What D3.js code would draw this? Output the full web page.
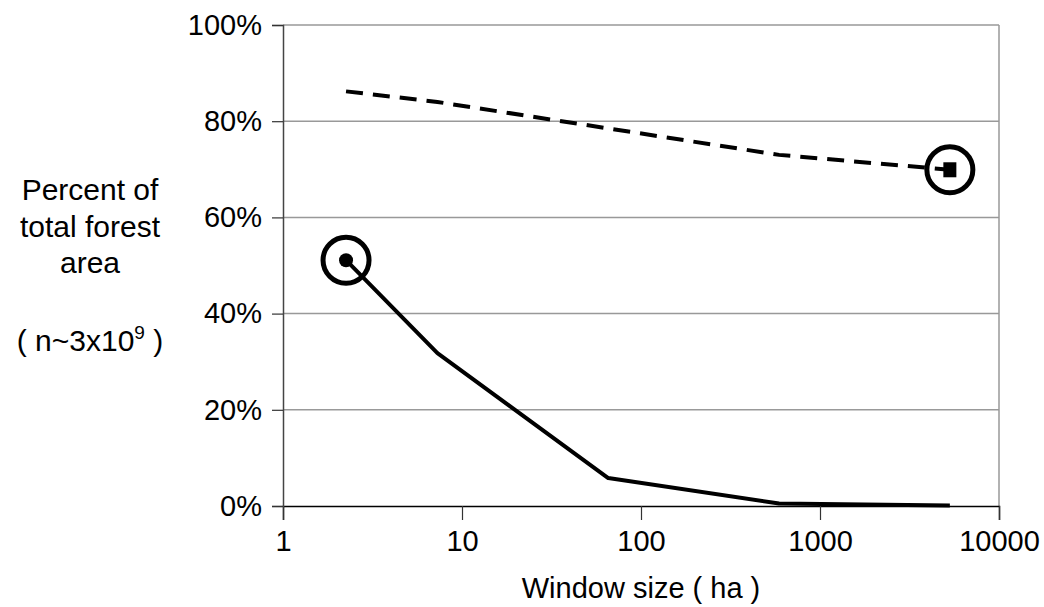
<!DOCTYPE html>
<html>
<head>
<meta charset="utf-8">
<script src="https://cdn.jsdelivr.net/npm/d3@7"></script>
<style>
  body { margin: 0; background: #fff; }
  text { font-family: "Liberation Sans", Arial, sans-serif; }
</style>
</head>
<body>
<script>
// window sizes (ha) and percent of forest area
var windowSizes = [2.25, 7.29, 65.61, 590.49, 5314.41];
var solidPct = [51.1, 31.8, 5.8, 0.5, 0.1];
var dashedPct = [86.2, 84.0, 78.5, 73.0, 69.9];
var xTicks = [1, 10, 100, 1000, 10000];
var yTicks = [0, 20, 40, 60, 80, 100];

var larg = 1044, haut = 607;
var marg = {left: 283, right: 45, top: 25, bottom: 101};

var svg = d3.select("body").append("svg")
  .attr("width", larg)
  .attr("height", haut);

var x = d3.scaleLog().domain([1, 10000]).range([marg.left, larg - marg.right]);
var y = d3.scaleLinear().domain([0, 100]).range([haut - marg.bottom, marg.top]);

//grille
svg.selectAll("line.grid")
  .data(yTicks.filter(function(d) { return d > 0; }))
  .enter().append("line")
  .attr("class", "grid")
  .attr("x1", x(1)).attr("x2", x(10000))
  .attr("y1", function(d) { return y(d); })
  .attr("y2", function(d) { return y(d); })
  .attr("stroke", "#999").attr("stroke-width", 1.5);

//bord droit
svg.append("line")
  .attr("x1", x(10000)).attr("x2", x(10000))
  .attr("y1", y(100)).attr("y2", y(0))
  .attr("stroke", "#999").attr("stroke-width", 1.5);

//axes
var axeX = svg.append("g")
  .attr("transform", "translate(0," + y(0) + ")")
  .call(d3.axisBottom(x).tickValues(xTicks).tickFormat(d3.format("d")).tickSize(14).tickPadding(10));
var axeY = svg.append("g")
  .attr("transform", "translate(" + x(1) + ",0)")
  .call(d3.axisLeft(y).tickValues(yTicks).tickFormat(function(d) { return d + "%"; }).tickSize(11).tickPadding(10));

[axeX, axeY].forEach(function(a) {
  a.select(".domain").attr("stroke", "#000").attr("stroke-width", 1.5);
  a.selectAll(".tick line").attr("stroke", "#333").attr("stroke-width", 1.2);
  a.selectAll(".tick text")
    .attr("font-size", "29px")
    .attr("fill", "#000")
    .attr("font-family", "Liberation Sans, Arial, sans-serif");
});
axeY.select(".domain").attr("stroke", "#444");

//courbes
var pts = function(vals) {
  return windowSizes.map(function(w, i) { return [x(w), y(vals[i])]; });
};
var ligne = d3.line();

svg.append("path")
  .attr("d", ligne(pts(solidPct)))
  .attr("fill", "none").attr("stroke", "#000").attr("stroke-width", 4)
  .attr("stroke-linejoin", "round");

svg.append("path")
  .attr("d", ligne(pts(dashedPct)))
  .attr("fill", "none").attr("stroke", "#000").attr("stroke-width", 4)
  .attr("stroke-dasharray", "17,10");

//marqueurs
svg.append("circle")
  .attr("cx", x(windowSizes[0])).attr("cy", y(solidPct[0]))
  .attr("r", 7).attr("fill", "#000");
svg.append("circle")
  .attr("cx", x(windowSizes[0])).attr("cy", y(solidPct[0]))
  .attr("r", 23).attr("fill", "none").attr("stroke", "#000").attr("stroke-width", 5);

var last = windowSizes.length - 1;
svg.append("rect")
  .attr("x", x(windowSizes[last]) - 6.5).attr("y", y(dashedPct[last]) - 7.5)
  .attr("width", 13).attr("height", 15).attr("fill", "#000");
svg.append("circle")
  .attr("cx", x(windowSizes[last])).attr("cy", y(dashedPct[last]))
  .attr("r", 23).attr("fill", "none").attr("stroke", "#000").attr("stroke-width", 5);

//titres
svg.append("text")
  .attr("x", (x(1) + x(10000)) / 2).attr("y", 598)
  .attr("text-anchor", "middle").attr("font-size", "29px")
  .text("Window size ( ha )");

var titreY = svg.append("text")
  .attr("text-anchor", "middle").attr("font-size", "30px");
["Percent of", "total forest", "area"].forEach(function(t, i) {
  titreY.append("tspan").attr("x", 90).attr("y", 200 + i * 36.5).text(t);
});
var nt = svg.append("text")
  .attr("x", 90).attr("y", 351)
  .attr("text-anchor", "middle").attr("font-size", "30px");
nt.append("tspan").text("( n~3x10");
nt.append("tspan").attr("font-size", "19px").attr("dy", -12).text("9");
nt.append("tspan").attr("dy", 12).text(" )");
</script>
</body>
</html>
